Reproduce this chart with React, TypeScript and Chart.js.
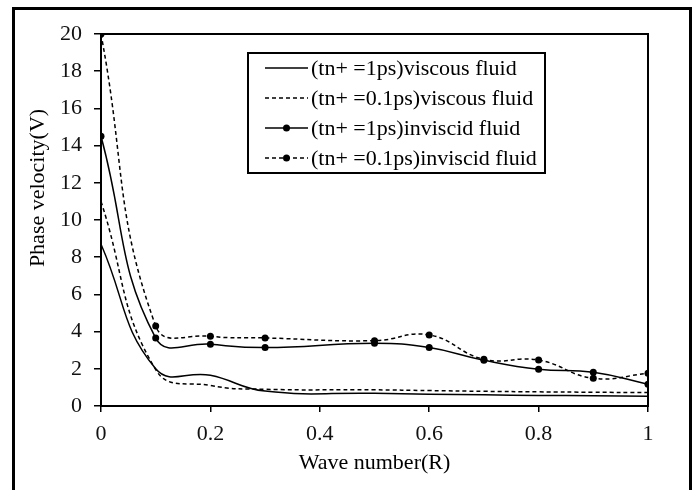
import React, { useEffect, useRef } from "react";
import { Chart, registerables } from "chart.js";

Chart.register(...registerables);

const waveNumbers = [0, 0.1, 0.2, 0.3, 0.5, 0.6, 0.7, 0.8, 0.9, 1];
const viscous1ps = [8.7, 2.0, 1.65, 0.8, 0.68, 0.63, 0.6, 0.57, 0.55, 0.53];
const viscous01ps = [11.0, 1.95, 1.1, 0.9, 0.87, 0.83, 0.79, 0.76, 0.74, 0.72];
const inviscid1ps = [14.5, 3.65, 3.32, 3.14, 3.37, 3.14, 2.46, 1.97, 1.81, 1.17];
const inviscid01ps = [20.0, 4.3, 3.75, 3.66, 3.51, 3.82, 2.51, 2.47, 1.49, 1.76];

const seriesLabels = [
  "(tn+ =1ps)viscous fluid",
  "(tn+ =0.1ps)viscous fluid",
  "(tn+ =1ps)inviscid fluid",
  "(tn+ =0.1ps)inviscid fluid",
];
const xTitle = "Wave number(R)";
const yTitle = "Phase velocity(V)";
const yTicks = [0, 2, 4, 6, 8, 10, 12, 14, 16, 18, 20];
const xTicks = [0, 0.2, 0.4, 0.6, 0.8, 1];

const FONT = "'Liberation Serif', 'Times New Roman', serif";

const toPoints = (ys: number[]) => ys.map((y, i) => ({ x: waveNumbers[i], y }));

const decorPlugin = {
  id: "decor",
  afterDraw(chart: any) {
    const { ctx, chartArea } = chart;
    ctx.save();
    // outer frame
    ctx.strokeStyle = "#000";
    ctx.lineWidth = 3;
    ctx.strokeRect(13.5, 8.5, 677, 520);
    // plot box
    ctx.lineWidth = 2;
    ctx.strokeRect(chartArea.left, chartArea.top, chartArea.right - chartArea.left, chartArea.bottom - chartArea.top);

    // y title
    ctx.save();
    ctx.translate(38, 188);
    ctx.rotate(-Math.PI / 2);
    ctx.font = `22px ${FONT}`;
    ctx.fillStyle = "#000";
    ctx.textAlign = "center";
    ctx.textBaseline = "middle";
    ctx.fillText(yTitle, 0, 0);
    ctx.restore();

    // legend
    const bx = 248, by = 53, bw = 297, bh = 120;
    ctx.fillStyle = "#fff";
    ctx.fillRect(bx, by, bw, bh);
    ctx.lineWidth = 2;
    ctx.strokeStyle = "#000";
    ctx.strokeRect(bx, by, bw, bh);
    chart.data.datasets.forEach((ds: any, i: number) => {
      const ry = by + 15 + 30 * i;
      ctx.save();
      ctx.strokeStyle = "#000";
      ctx.lineWidth = ds.borderWidth;
      ctx.setLineDash(ds.borderDash || []);
      ctx.beginPath();
      ctx.moveTo(265, ry);
      ctx.lineTo(308, ry);
      ctx.stroke();
      ctx.setLineDash([]);
      if (ds.pointRadius > 0) {
        ctx.beginPath();
        ctx.arc(286.5, ry, ds.pointRadius, 0, Math.PI * 2);
        ctx.fillStyle = "#000";
        ctx.fill();
      }
      ctx.restore();
      ctx.font = `22px ${FONT}`;
      ctx.fillStyle = "#000";
      ctx.textAlign = "left";
      ctx.textBaseline = "middle";
      ctx.fillText(ds.label, 311, ry + 1);
    });
    ctx.restore();
  },
};

export default function App() {
  const ref = useRef<HTMLCanvasElement | null>(null);
  useEffect(() => {
    if (!ref.current) return;
    const mk = (label: string, ys: number[], dashed: boolean, markers: boolean) => ({
      label,
      data: toPoints(ys),
      borderColor: "#000",
      backgroundColor: "#000",
      borderWidth: 1.5,
      borderDash: dashed ? [4, 3] : [],
      pointRadius: markers ? 3.5 : 0,
      pointHoverRadius: markers ? 3.5 : 0,
      pointBackgroundColor: "#000",
      pointBorderWidth: 0,
      tension: 0.45,
      fill: false,
    });
    const chart = new Chart(ref.current, {
      type: "line",
      data: {
        datasets: [
          mk(seriesLabels[0], viscous1ps, false, false),
          mk(seriesLabels[1], viscous01ps, true, false),
          mk(seriesLabels[2], inviscid1ps, false, true),
          mk(seriesLabels[3], inviscid01ps, true, true),
        ],
      },
      options: {
        responsive: false,
        animation: false,
        events: [],
        layout: { padding: { left: 0, top: 34, right: 49, bottom: 0 } },
        plugins: { legend: { display: false }, tooltip: { enabled: false } },
        scales: {
          x: {
            type: "linear",
            min: 0,
            max: 1,
            afterFit: (s: any) => { s.height = 84; },
            afterBuildTicks: (s: any) => { s.ticks = xTicks.map((v) => ({ value: v })); },
            grid: { drawOnChartArea: false, drawTicks: true, tickLength: 6, color: "#000", lineWidth: 1.5 },
            border: { display: true, color: "#000", width: 2 },
            ticks: {
              color: "#111",
              font: { family: FONT, size: 22 },
              padding: 9,
              maxRotation: 0,
              callback: (v: any) => String(Number(Number(v).toFixed(1))),
            },
            title: { display: true, text: xTitle, color: "#000", font: { family: FONT, size: 22 }, padding: { top: 0, bottom: 14 } },
          },
          y: {
            min: 0,
            max: 20,
            afterFit: (s: any) => { s.width = 101; },
            afterBuildTicks: (s: any) => { s.ticks = yTicks.map((v) => ({ value: v })); },
            grid: { drawOnChartArea: false, drawTicks: true, tickLength: 7, color: "#000", lineWidth: 1.5 },
            border: { display: true, color: "#000", width: 2 },
            ticks: { color: "#111", font: { family: FONT, size: 22 }, padding: 12 },
          },
        },
      },
      plugins: [decorPlugin],
    });
    return () => chart.destroy();
  }, []);
  return (
    <div style={{ position: "absolute", left: 0, top: 0, width: 697, height: 490, background: "#fff" }}>
      <canvas ref={ref} width={697} height={490} style={{ display: "block" }} />
    </div>
  );
}
